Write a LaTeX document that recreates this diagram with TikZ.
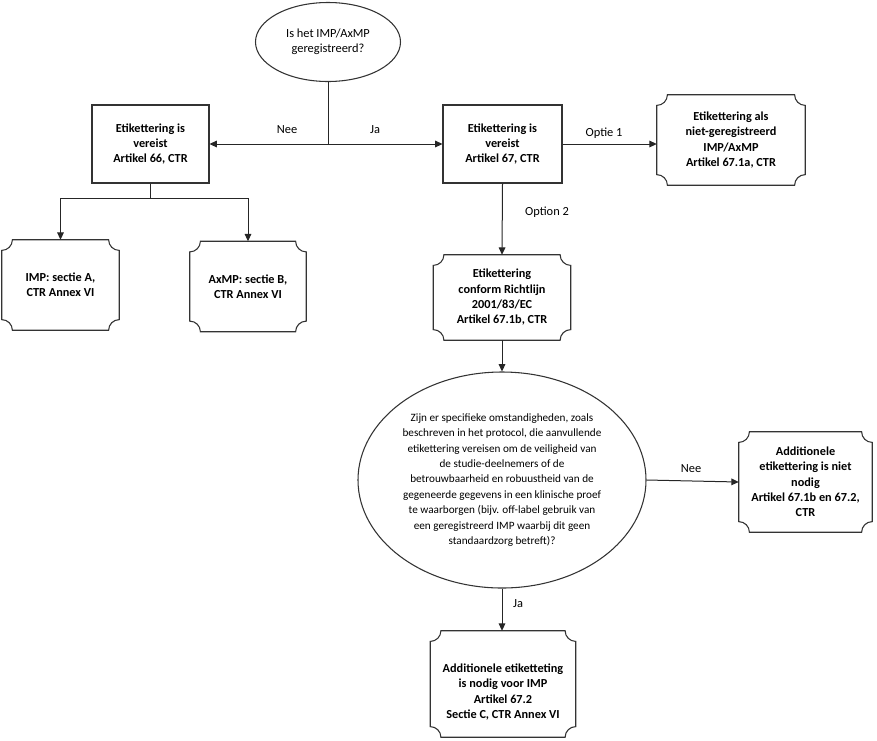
\documentclass[tikz,border=0pt]{standalone}
\usepackage{fontspec}
\setmainfont{Carlito}
\usetikzlibrary{arrows.meta,shapes.geometric}
\newlength{\pr}
\setlength{\pr}{8pt}
\newcommand{\plaqueframe}[1]{%
  \draw[boxline] ([xshift=\pr]#1.south west) -- ([xshift=-\pr]#1.south east)
    arc[start angle=180,end angle=90,radius=\pr]
    -- ([yshift=-\pr]#1.north east)
    arc[start angle=270,end angle=180,radius=\pr]
    -- ([xshift=\pr]#1.north west)
    arc[start angle=0,end angle=-90,radius=\pr]
    -- ([yshift=\pr]#1.south west)
    arc[start angle=90,end angle=0,radius=\pr] -- cycle;}
\tikzset{
  x=0.75pt, y=0.75pt,
  every node/.style={font=\fontsize{9.3pt}{11.3pt}\selectfont, text=black},
  boxline/.style={draw=black!80, line width=0.8pt},
  rbox/.style={boxline, rectangle, inner sep=0pt, align=center, font=\fontsize{9.2pt}{11.5pt}\selectfont\bfseries},
  pbox/.style={rectangle, inner sep=0pt, align=center, font=\fontsize{9.2pt}{11.5pt}\selectfont\bfseries},
  conn/.style={draw=black!85, line width=0.75pt},
  arr/.style={conn, -{Triangle[length=5.5pt,width=5pt]}},
  lbl/.style={inner sep=1pt}
}
\begin{document}
\begin{tikzpicture}
\useasboundingbox (0,0) rectangle (877,-740);
% top decision
\node[boxline, ellipse, minimum width=145*0.75pt, minimum height=79*0.75pt, inner sep=0pt, align=center] (q1) at (328,-42) {Is het IMP/AxMP\\geregistreerd?};
% boxes
\node[rbox, minimum width=117*0.75pt, minimum height=78*0.75pt] (b66) at (150.5,-144) {Etikettering is\\vereist\\Artikel 66, CTR};
\node[rbox, minimum width=119*0.75pt, minimum height=78*0.75pt] (b67) at (502.5,-144) {Etikettering is\\vereist\\Artikel 67, CTR};
% plaques
\node[pbox, minimum width=117*0.75pt, minimum height=90*0.75pt] (pA) at (60.5,-285) {IMP: sectie A,\\CTR Annex VI};
\node[pbox, minimum width=116*0.75pt, minimum height=90*0.75pt] (pB) at (248,-286.5) {AxMP: sectie B,\\CTR Annex VI};
\node[pbox, minimum width=148*0.75pt, minimum height=90*0.75pt] (pO1) at (731,-140) {Etikettering als\\niet-geregistreerd\\IMP/AxMP\\Artikel 67.1a, CTR};
\node[pbox, minimum width=137*0.75pt, minimum height=85*0.75pt] (p2) at (502,-297.5) {Etikettering\\conform Richtlijn\\2001/83/EC\\Artikel 67.1b, CTR};
\node[pbox, minimum width=133*0.75pt, minimum height=100*0.75pt] (pNee) at (805.5,-482) {Additionele\\etikettering is niet\\nodig\\Artikel 67.1b en 67.2,\\CTR};
\node[pbox, minimum width=145*0.75pt, minimum height=106*0.75pt] (pJa) at (503,-684) {};
\node[pbox] (pJaT) at (503,-692) {Additionele etiketteting\\is nodig voor IMP\\Artikel 67.2\\Sectie C, CTR Annex VI};
\plaqueframe{pA}
\plaqueframe{pB}
\plaqueframe{pO1}
\plaqueframe{p2}
\plaqueframe{pNee}
\plaqueframe{pJa}
% big decision
\node[boxline, ellipse, minimum width=288*0.75pt, minimum height=216*0.75pt, inner sep=0pt] (q2) at (502,-480) {};
\node[align=center, inner sep=0pt, font=\fontsize{8.4pt}{11.6pt}\selectfont] (q2t) at (q2.center) {Zijn er specifieke omstandigheden, zoals\\beschreven in het protocol, die aanvullende\\etikettering vereisen om de veiligheid van\\de studie-deelnemers of de\\betrouwbaarheid en robuustheid van de\\gegeneerde gegevens in een klinische proef\\te waarborgen (bijv. off-label gebruik van\\een geregistreerd IMP waarbij dit geen\\standaardzorg betreft)?};
% connectors
\coordinate (j1) at (328,-144);
\coordinate (j2) at (150.5,-198);
\draw[conn] (q1.south) -- (j1);
\draw[arr] (j1) -- (b66.east);
\draw[arr] (j1) -- (b67.west);
\draw[arr] (b66.south) -- (j2) -| (pA.north);
\draw[arr] (j2) -| (pB.north);
\draw[arr] (b67.east) -- (b67.east -| pO1.west);
\draw[arr] (b67.south) -- (p2.north);
\draw[arr] (p2.south) -- (q2.north);
\draw[arr] (q2.east) -- (pNee.west);
\draw[arr] (q2.south) -- (q2.south |- pJa.north);
% labels
\node[lbl] (lNee1) at (287,-130) {Nee};
\node[lbl] (lJa1) at (375,-130) {Ja};
\node[lbl] (lO1) at (604,-133) {Optie 1};
\node[lbl] (lO2) at (547,-212) {Option 2};
\node[lbl] (lNee2) at (691,-469) {Nee};
\node[lbl] (lJa2) at (518,-604) {Ja};
\end{tikzpicture}
\end{document}
